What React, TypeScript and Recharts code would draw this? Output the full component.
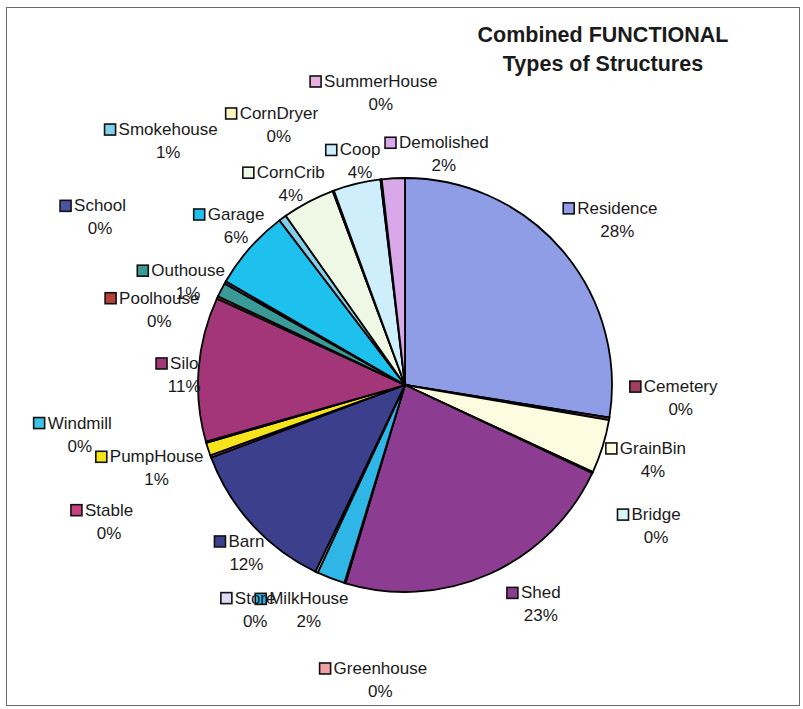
import React from 'react';
import { PieChart, Pie, Cell } from 'recharts';

const categories = [
  'Residence', 'Cemetery', 'GrainBin', 'Bridge', 'Shed', 'Greenhouse', 'MilkHouse', 'Store',
  'Barn', 'Stable', 'PumpHouse', 'Windmill', 'Silo', 'Poolhouse', 'Outhouse', 'School',
  'Garage', 'Smokehouse', 'CornCrib', 'CornDryer', 'Coop', 'SummerHouse', 'Demolished',
];

const values = [
  27.6, 0.2, 4.2, 0.1, 22.7, 0.1, 2.2, 0.2,
  12.2, 0.2, 1.0, 0.1, 11.3, 0.2, 1.1, 0.2,
  6.3, 0.6, 4.1, 0.1, 3.7, 0.1, 1.8,
];

const colors = [
  '#8f9de6', '#a0405e', '#fdfbe0', '#d8f6f6', '#8c3d91', '#f0a0a0', '#2fb6e6', '#dcdcf8',
  '#3c3f8c', '#c8407f', '#f5e41c', '#3cc2e8', '#a33579', '#b8403a', '#3a9a98', '#4a54a0',
  '#1ec0ee', '#7fd0e8', '#eef8e4', '#fbf6c0', '#cdeefa', '#e6b0e0', '#d8a8e8',
];

// label placement: [angle nudge (deg, clockwise), distance from centre]
const LABEL_LAYOUT: [number, number][] = [
  [2.6, 269], [-6.7, 276], [-0.5, 259], [4.3, 288], [-7.7, 258], [-12.1, 296], [2.1, 245], [8.4, 270],
  [-4.2, 231], [-4.6, 326], [-0.5, 262], [7.4, 329], [-1.8, 221], [-8, 257], [-2, 240], [-0.9, 348],
  [1.9, 232], [-7.9, 340], [-1.8, 231], [-5.6, 289], [2.1, 228], [1.9, 293], [12.8, 234],
];

const data = categories.map((name, i) => ({ name, value: values[i] }));
const total = values.reduce((a, b) => a + b, 0);

const LABEL_FONT = '17px "Liberation Sans", Arial, sans-serif';
let ctx: CanvasRenderingContext2D | null = null;
function textWidth(t: string): number {
  if (!ctx) {
    const c = document.createElement('canvas');
    ctx = c.getContext('2d');
  }
  if (!ctx) return t.length * 9;
  ctx.font = LABEL_FONT;
  return ctx.measureText(t).width;
}

const RAD = Math.PI / 180;

const renderLabel = (props: any) => {
  const { cx, cy, midAngle, index } = props;
  const [nudge, dist] = LABEL_LAYOUT[index];
  const a = (midAngle - nudge) * RAD;
  const x = cx + dist * Math.cos(a);
  const y = cy - dist * Math.sin(a);
  const name = categories[index];
  const pct = Math.round((values[index] / total) * 100) + '%';
  const w = textWidth(name);
  const sq = 11;
  return (
    <g key={`lbl-${index}`}>
      <rect
        x={x - w / 2 - sq - 3}
        y={y - 11.5 - sq / 2}
        width={sq}
        height={sq}
        fill={colors[index]}
        stroke="#111"
        strokeWidth={1.6}
      />
      <text
        x={x}
        y={y - 11.5}
        textAnchor="middle"
        dominantBaseline="central"
        fontFamily='"Liberation Sans", Arial, sans-serif'
        fontSize={17}
        fill="#1a1a1a"
      >
        {name}
      </text>
      <text
        x={x}
        y={y + 11.5}
        textAnchor="middle"
        dominantBaseline="central"
        fontFamily='"Liberation Sans", Arial, sans-serif'
        fontSize={17}
        fill="#1a1a1a"
      >
        {pct}
      </text>
    </g>
  );
};

export default function App() {
  return (
    <div style={{ position: 'absolute', left: 0, top: 0, width: 803, height: 709, background: '#fff' }}>
      <div
        style={{
          position: 'absolute',
          left: 6,
          top: 7,
          width: 794,
          height: 699,
          border: '1px solid #6a6a6a',
          boxSizing: 'border-box',
        }}
      />
      <div
        style={{
          position: 'absolute',
          left: 453,
          top: 21,
          width: 300,
          textAlign: 'center',
          fontFamily: '"Liberation Sans", Arial, sans-serif',
          fontWeight: 'bold',
          fontSize: 21.5,
          lineHeight: '29px',
          color: '#1a1a1a',
        }}
      >
        Combined FUNCTIONAL
        <br />
        Types of Structures
      </div>
      <div style={{ position: 'absolute', left: 0, top: 0 }}>
        <PieChart width={803} height={709} margin={{ top: 0, right: 0, bottom: 0, left: 0 }}>
          <Pie
            data={data}
            dataKey="value"
            nameKey="name"
            cx={405}
            cy={385}
            outerRadius={207}
            startAngle={90}
            endAngle={-270}
            stroke="#000"
            strokeWidth={1.8}
            labelLine={false}
            label={renderLabel}
            isAnimationActive={false}
          >
            {data.map((d, i) => (
              <Cell key={d.name} fill={colors[i]} />
            ))}
          </Pie>
        </PieChart>
      </div>
    </div>
  );
}
